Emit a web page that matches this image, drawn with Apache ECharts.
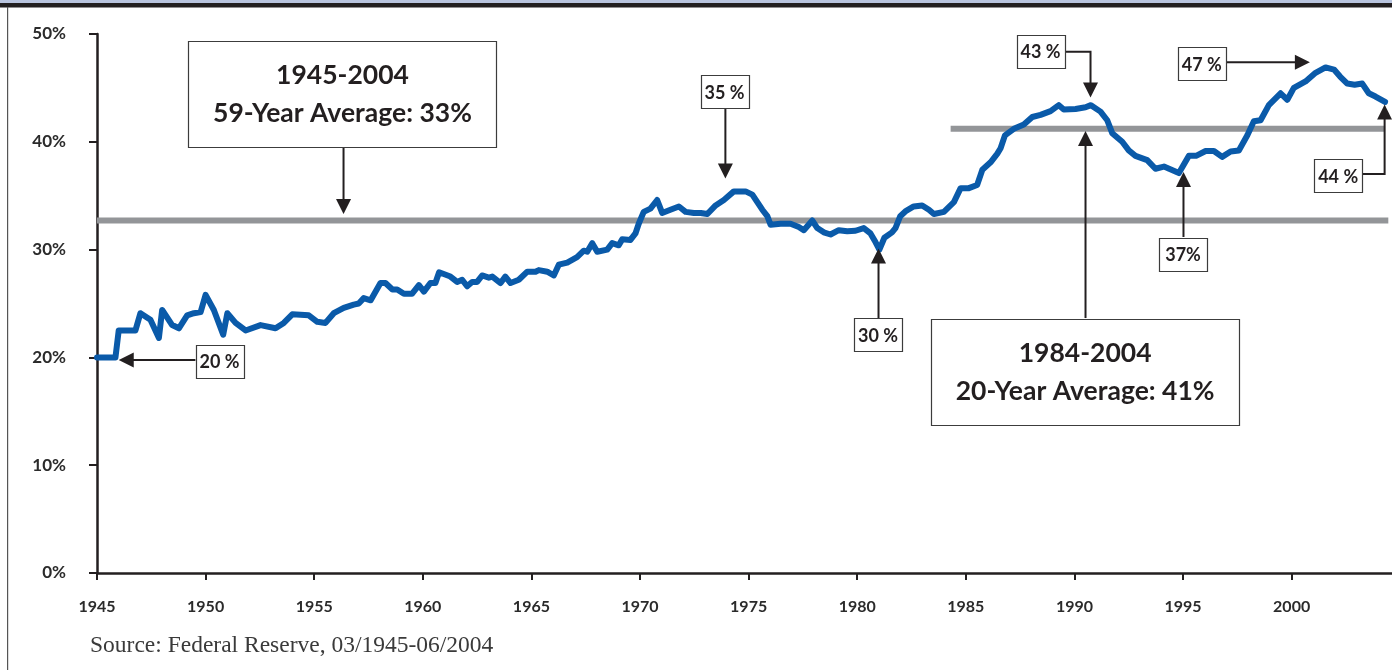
<!DOCTYPE html>
<html>
<head>
<meta charset="utf-8">
<script src="https://cdn.jsdelivr.net/npm/echarts@6/dist/echarts.min.js"></script>
<style>
  html, body { margin: 0; padding: 0; background: #ffffff; }
  #chart { width: 1392px; height: 670px; }
</style>
</head>
<body>
<div id="chart"></div>
<script>
// Quarterly readings, 03/1945 - 06/2004 (percent)
const years = [
  1945.0, 1945.3, 1945.6, 1945.85, 1946.0, 1946.77, 1947.0, 1947.46, 1947.85, 1948.0,
  1948.46, 1948.77, 1949.15, 1949.46, 1949.77, 1950.0, 1950.38, 1950.81, 1951.0, 1951.38,
  1951.84, 1952.53, 1953.22, 1953.6, 1953.99, 1954.75, 1955.14, 1955.52, 1955.9, 1956.36,
  1956.82, 1957.05, 1957.28, 1957.6, 1958.05, 1958.28, 1958.6, 1958.82, 1959.13, 1959.5,
  1959.82, 1960.05, 1960.35, 1960.58, 1960.75, 1961.27, 1961.58, 1961.81, 1962.04, 1962.27,
  1962.5, 1962.73, 1963.04, 1963.2, 1963.58, 1963.8, 1964.04, 1964.42, 1964.81, 1965.19,
  1965.34, 1965.73, 1966.03, 1966.26, 1966.65, 1967.1, 1967.41, 1967.57, 1967.8, 1968.03,
  1968.49, 1968.72, 1969.02, 1969.18, 1969.56, 1969.79, 1969.94, 1970.17, 1970.48, 1970.79,
  1971.02, 1971.4, 1971.79, 1972.1, 1972.48, 1972.8, 1973.1, 1973.48, 1973.86, 1974.32,
  1974.86, 1975.17, 1975.4, 1975.63, 1975.86, 1976.01, 1976.47, 1976.93, 1977.31, 1977.54,
  1977.93, 1978.16, 1978.46, 1978.77, 1979.15, 1979.54, 1979.92, 1980.3, 1980.61, 1980.84,
  1981.02, 1981.25, 1981.6, 1981.76, 1981.98, 1982.25, 1982.6, 1982.99, 1983.3, 1983.53,
  1983.99, 1984.45, 1984.76, 1985.14, 1985.52, 1985.76, 1986.14, 1986.45, 1986.6, 1986.8,
  1987.21, 1987.67, 1988.06, 1988.44, 1988.9, 1989.28, 1989.51, 1990.05, 1990.51, 1990.76,
  1991.2, 1991.51, 1991.74, 1992.2, 1992.5, 1992.81, 1993.35, 1993.73, 1994.12, 1994.81,
  1995.27, 1995.6, 1996.04, 1996.42, 1996.8, 1997.19, 1997.57, 1997.96, 1998.26, 1998.57,
  1998.95, 1999.49, 1999.8, 2000.1, 2000.64, 2001.1, 2001.56, 2001.95, 2002.23, 2002.56,
  2002.9, 2003.25, 2003.55, 2003.86, 2004.3
];
const shares = [
  20.0, 20.0, 20.0, 20.0, 22.5, 22.5, 24.1, 23.5, 21.8, 24.4,
  23.0, 22.7, 23.9, 24.1, 24.2, 25.8, 24.4, 22.1, 24.1, 23.2,
  22.5, 23.0, 22.7, 23.2, 24.0, 23.9, 23.3, 23.2, 24.1, 24.6,
  24.9, 25.0, 25.5, 25.3, 26.9, 26.9, 26.3, 26.3, 25.9, 25.9,
  26.7, 26.1, 26.9, 26.9, 27.9, 27.5, 27.0, 27.2, 26.6, 27.0,
  27.0, 27.6, 27.4, 27.5, 26.9, 27.5, 26.9, 27.2, 27.95, 27.95,
  28.1, 27.95, 27.6, 28.6, 28.8, 29.3, 29.9, 29.8, 30.6, 29.8,
  30.0, 30.6, 30.4, 30.95, 30.9, 31.5, 32.4, 33.5, 33.8, 34.6,
  33.4, 33.7, 34.0, 33.5, 33.4, 33.4, 33.3, 34.1, 34.6, 35.4,
  35.4, 35.1, 34.4, 33.7, 33.1, 32.3, 32.4, 32.4, 32.1, 31.8,
  32.7, 32.0, 31.6, 31.4, 31.8, 31.7, 31.75, 32.0, 31.5, 30.7,
  30.0, 31.1, 31.6, 32.0, 33.1, 33.6, 34.0, 34.1, 33.7, 33.3,
  33.5, 34.4, 35.7, 35.7, 36.0, 37.4, 38.1, 38.9, 39.4, 40.6,
  41.2, 41.6, 42.3, 42.5, 42.85, 43.4, 43.0, 43.05, 43.2, 43.4,
  42.8, 42.0, 40.8, 40.0, 39.2, 38.7, 38.3, 37.5, 37.7, 37.1,
  38.7, 38.7, 39.15, 39.15, 38.6, 39.1, 39.2, 40.6, 41.9, 42.0,
  43.4, 44.5, 43.9, 45.0, 45.6, 46.4, 46.9, 46.7, 46.05, 45.4,
  45.3, 45.4, 44.5, 44.2, 43.7
];

// Period averages (start year, end year, percent)
const longAvg = [1945.0, 2004.45, 32.7];
const recentAvg = [1984.3, 2004.3, 41.2];

// Axis ticks
const yTicks = [0, 10, 20, 30, 40, 50];
const xTicks = [1945, 1950, 1955, 1960, 1965, 1970, 1975, 1980, 1985, 1990, 1995, 2000];

// Callouts: text, box centre and leader path in [year, percent]
const callouts = [
  { text: ['20 %'], box: [1950.64, 19.62], path: [[1949.53, 19.76], [1946.0, 19.76]] },
  { text: ['35 %'], box: [1973.89, 44.62], path: [[1973.93, 43.04], [1973.93, 36.6]] },
  { text: ['30 %'], box: [1980.96, 22.08], path: [[1980.98, 23.65], [1980.98, 30.1]] },
  { text: ['43 %'], box: [1988.44, 48.38], path: [[1989.54, 48.36], [1990.74, 48.36], [1990.74, 44.1]] },
  { text: ['47 %'], box: [1995.86, 47.22], path: [[1996.97, 47.37], [2000.84, 47.37]] },
  { text: ['37%'], box: [1995.0, 29.59], path: [[1995.02, 31.17], [1995.02, 37.2]] },
  { text: ['44 %'], box: [2002.14, 36.83], path: [[2003.26, 37.01], [2004.28, 37.01], [2004.28, 43.45]] },
  { text: ['1945-2004', '59-Year Average: 33%'], big: true, box: [1956.30, 44.43], path: [[1956.35, 39.61], [1956.35, 33.3]] },
  { text: ['1984-2004', '20-Year Average: 41%'], big: true, box: [1990.49, 18.6], path: [[1990.51, 23.65], [1990.51, 41.0]] }
];

const INK = '#231f20';
const BLUE = '#0a5aa9';
const GREY = '#939598';
const LABEL_FONT = 'Lato, "Open Sans", sans-serif';

const chart = echarts.init(document.getElementById('chart'), null, { renderer: 'canvas' });

const lineData = years.map((y, i) => [y, shares[i]]);

chart.setOption({
  animation: false,
  backgroundColor: '#ffffff',
  grid: { left: 97, right: 0, top: 34, bottom: 97, containLabel: false },
  xAxis: {
    type: 'value',
    min: 1945,
    max: 2004.62,
    axisLine: { show: true, onZero: false, lineStyle: { color: INK, width: 2.5 } },
    axisTick: { show: true, length: 7, customValues: xTicks, lineStyle: { color: INK, width: 2 } },
    axisLabel: {
      customValues: xTicks,
      formatter: v => String(Math.round(v)),
      margin: 26,
      color: '#2b2b2b',
      fontFamily: LABEL_FONT,
      fontWeight: 'bold',
      fontSize: 16
    },
    splitLine: { show: false }
  },
  yAxis: {
    type: 'value',
    min: yTicks[0],
    max: yTicks[yTicks.length - 1],
    interval: yTicks[1] - yTicks[0],
    axisLine: { show: true, lineStyle: { color: INK, width: 2.5 } },
    axisTick: { show: true, length: 8, lineStyle: { color: INK, width: 2 } },
    axisLabel: {
      margin: 31,
      color: '#2b2b2b',
      fontFamily: LABEL_FONT,
      fontWeight: 'bold',
      fontSize: 17,
      formatter: '{value}%'
    },
    splitLine: { show: false }
  },
  series: [
    {
      name: 'long average',
      type: 'line',
      data: [[longAvg[0], longAvg[2]], [longAvg[1], longAvg[2]]],
      symbol: 'none',
      lineStyle: { color: GREY, width: 6, cap: 'butt' },
      z: 2,
      silent: true
    },
    {
      name: 'recent average',
      type: 'line',
      data: [[recentAvg[0], recentAvg[2]], [recentAvg[1], recentAvg[2]]],
      symbol: 'none',
      lineStyle: { color: GREY, width: 6, cap: 'butt' },
      z: 2,
      silent: true
    },
    {
      name: 'share',
      type: 'line',
      data: lineData,
      symbol: 'none',
      smooth: false,
      lineStyle: { color: BLUE, width: 6, join: 'round', cap: 'round' },
      z: 3,
      silent: true
    }
  ]
});

// Callout boxes, leader lines and arrowheads
function px(p) { return chart.convertToPixel({ gridIndex: 0 }, p); }

const elements = [];

// Frame: title band and left rule
elements.push({ type: 'rect', shape: { x: 0, y: 0, width: 1392, height: 3 }, style: { fill: '#b9c4de' }, z: 50 });
elements.push({ type: 'rect', shape: { x: 0, y: 3, width: 1392, height: 4.5 }, style: { fill: INK }, z: 50 });
elements.push({ type: 'rect', shape: { x: 7, y: 7, width: 1.2, height: 663 }, style: { fill: '#555555' }, z: 50 });

callouts.forEach(c => {
  const center = px(c.box);
  const w = c.big ? 308 : 48;
  const h = c.big ? 106 : 33;
  elements.push({
    type: 'rect',
    shape: { x: Math.round(center[0] - w / 2) + 0.5, y: Math.round(center[1] - h / 2) + 0.5, width: w, height: h },
    style: { fill: '#ffffff', stroke: '#3c3c3c', lineWidth: 1.2 },
    z: 20
  });
  if (c.big) {
    elements.push({
      type: 'text', z: 21,
      style: { text: c.text[0], x: center[0], y: center[1] - 19, align: 'center', verticalAlign: 'middle',
               font: 'bold 26.5px ' + LABEL_FONT, fill: INK }
    });
    elements.push({
      type: 'text', z: 21,
      style: { text: c.text[1], x: center[0], y: center[1] + 19, align: 'center', verticalAlign: 'middle',
               font: 'bold 26.5px ' + LABEL_FONT, fill: INK }
    });
  } else {
    elements.push({
      type: 'text', z: 21,
      style: { text: c.text[0], x: center[0], y: center[1] + 1, align: 'center', verticalAlign: 'middle',
               font: 'bold 18px ' + LABEL_FONT, fill: INK }
    });
  }
  const pts = c.path.map(px);
  const tip = pts[pts.length - 1];
  const prev = pts[pts.length - 2];
  const dx = tip[0] - prev[0], dy = tip[1] - prev[1];
  const len = Math.hypot(dx, dy) || 1;
  const ux = dx / len, uy = dy / len;
  const headLen = 15, headHalf = 7.5;
  const base = [tip[0] - ux * headLen, tip[1] - uy * headLen];
  const linePts = pts.slice(0, -1).concat([[base[0] + ux * 2, base[1] + uy * 2]]);
  elements.push({
    type: 'polyline', z: 19,
    shape: { points: linePts },
    style: { stroke: INK, lineWidth: 2, fill: null, lineJoin: 'miter' }
  });
  elements.push({
    type: 'polygon', z: 19,
    shape: { points: [tip, [base[0] - uy * headHalf, base[1] + ux * headHalf], [base[0] + uy * headHalf, base[1] - ux * headHalf]] },
    style: { fill: INK }
  });
});

// Source note
elements.push({
  type: 'text', z: 21,
  style: { text: 'Source: Federal Reserve, 03/1945-06/2004', x: 90, y: 646, align: 'left', verticalAlign: 'middle',
           font: '23.5px "Liberation Serif", "DejaVu Serif", serif', fill: '#3a3a3a' }
});

chart.setOption({ graphic: { elements: elements } });
</script>
</body>
</html>
